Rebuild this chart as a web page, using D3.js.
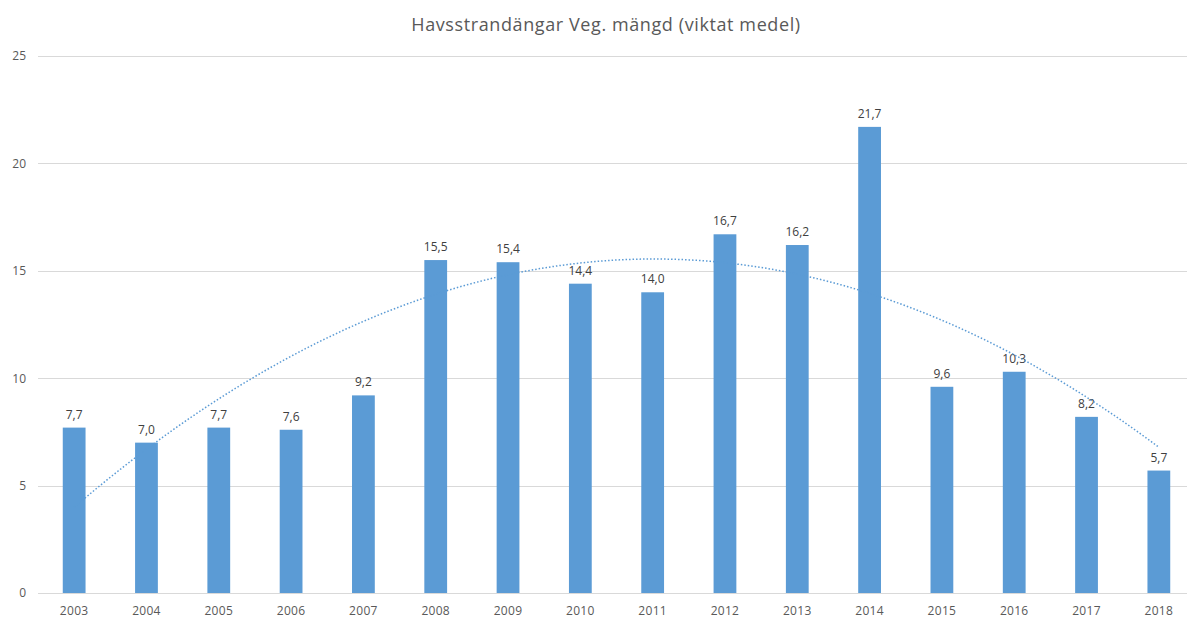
<!DOCTYPE html>
<html>
<head>
<meta charset="utf-8">
<script src="https://cdn.jsdelivr.net/npm/d3@7"></script>
<style>
  body { margin: 0; background: #fff; }
  svg { display: block; font-family: "Open Sans", sans-serif; }
</style>
</head>
<body>
<div id="chart"></div>
<script>
var years = ["2003", "2004", "2005", "2006", "2007", "2008", "2009", "2010",
             "2011", "2012", "2013", "2014", "2015", "2016", "2017", "2018"];
var values = [7.7, 7.0, 7.7, 7.6, 9.2, 15.5, 15.4, 14.4, 14.0, 16.7, 16.2, 21.7, 9.6, 10.3, 8.2, 5.7];
var yTicks = [0, 5, 10, 15, 20, 25];

var width = 1187, height = 619;
var margin = {top: 56, right: -8, bottom: 26, left: 38};

var svg = d3.select("#chart").append("svg")
  .attr("width", width)
  .attr("height", height);

svg.append("text")
  .attr("x", 606)
  .attr("y", 31)
  .attr("text-anchor", "middle")
  .attr("fill", "#595959")
  .style("font-size", "18px")
  .style("letter-spacing", "0.6px")
  .text("Havsstrandängar Veg. mängd (viktat medel)");

var x = d3.scaleBand()
  .domain(years)
  .range([margin.left, width - margin.right])
  .paddingInner(0.685)
  .paddingOuter(0.3425);

var y = d3.scaleLinear()
  .domain([0, 25])
  .range([height - margin.bottom, margin.top]);

// gridlines
svg.append("g")
  .selectAll("line")
  .data(yTicks)
  .enter()
  .append("line")
  .attr("x1", margin.left)
  .attr("x2", width)
  .attr("y1", function(d) { return Math.round(y(d)) + 0.5; })
  .attr("y2", function(d) { return Math.round(y(d)) + 0.5; })
  .attr("stroke", "#d9d9d9")
  .attr("stroke-width", 1);

// y tick labels
var yAxis = svg.append("g")
  .attr("transform", "translate(26,0)")
  .call(d3.axisLeft(y).tickValues(yTicks).tickSize(0).tickPadding(0));
yAxis.select(".domain").remove();
yAxis.selectAll("text")
  .attr("fill", "#595959")
  .style("font-size", "12px")
  .style("font-family", "Open Sans, sans-serif");

// x tick labels
var xAxis = svg.append("g")
  .attr("transform", "translate(0," + (height - margin.bottom) + ")")
  .call(d3.axisBottom(x).tickSize(0).tickPadding(13));
xAxis.select(".domain").remove();
xAxis.selectAll("text")
  .attr("fill", "#595959")
  .style("font-size", "12px")
  .style("letter-spacing", "0.3px")
  .style("font-family", "Open Sans, sans-serif");

// bars
svg.append("g")
  .selectAll("rect")
  .data(values)
  .enter()
  .append("rect")
  .attr("x", function(d, i) { return x(years[i]); })
  .attr("y", function(d) { return y(d); })
  .attr("width", x.bandwidth())
  .attr("height", function(d) { return y(0) - y(d); })
  .attr("fill", "#5b9bd5");

// data labels
svg.append("g")
  .selectAll("text")
  .data(values)
  .enter()
  .append("text")
  .attr("x", function(d, i) { return x(years[i]) + x.bandwidth() / 2; })
  .attr("y", function(d) { return y(d) - 9; })
  .attr("text-anchor", "middle")
  .attr("fill", "#404040")
  .style("font-size", "12px")
  .text(function(d) { return d.toFixed(1).replace(".", ","); });

// polynomial (order 2) trendline, least squares fit of the bar values
function quadFit(vals) {
  var s = [0, 0, 0, 0, 0], t = [0, 0, 0];
  vals.forEach(function(v, i) {
    var xi = i + 1, p = 1;
    for (var k = 0; k < 5; k++) { s[k] += p; if (k < 3) t[k] += p * v; p *= xi; }
  });
  var A = [[s[0], s[1], s[2], t[0]], [s[1], s[2], s[3], t[1]], [s[2], s[3], s[4], t[2]]];
  for (var c = 0; c < 3; c++) {
    for (var r = c + 1; r < 3; r++) {
      var f = A[r][c] / A[c][c];
      for (var k = c; k < 4; k++) A[r][k] -= f * A[c][k];
    }
  }
  var coef = [0, 0, 0];
  for (var r = 2; r >= 0; r--) {
    var sum = A[r][3];
    for (var k = r + 1; k < 3; k++) sum -= A[r][k] * coef[k];
    coef[r] = sum / A[r][r];
  }
  return function(xv) { return coef[0] + coef[1] * xv + coef[2] * xv * xv; };
}
var trend = quadFit(values);
var steps = d3.range(1, values.length + 0.001, 0.1);
var xPos = d3.scaleLinear()
  .domain([1, values.length])
  .range([x(years[0]) + x.bandwidth() / 2, x(years[years.length - 1]) + x.bandwidth() / 2]);

svg.append("path")
  .datum(steps)
  .attr("fill", "none")
  .attr("stroke", "#5b9bd5")
  .attr("stroke-width", 1.5)
  .attr("stroke-dasharray", "1.5,2")
  .attr("d", d3.line()
    .x(function(d) { return xPos(d); })
    .y(function(d) { return y(trend(d)); }));
</script>
</body>
</html>
